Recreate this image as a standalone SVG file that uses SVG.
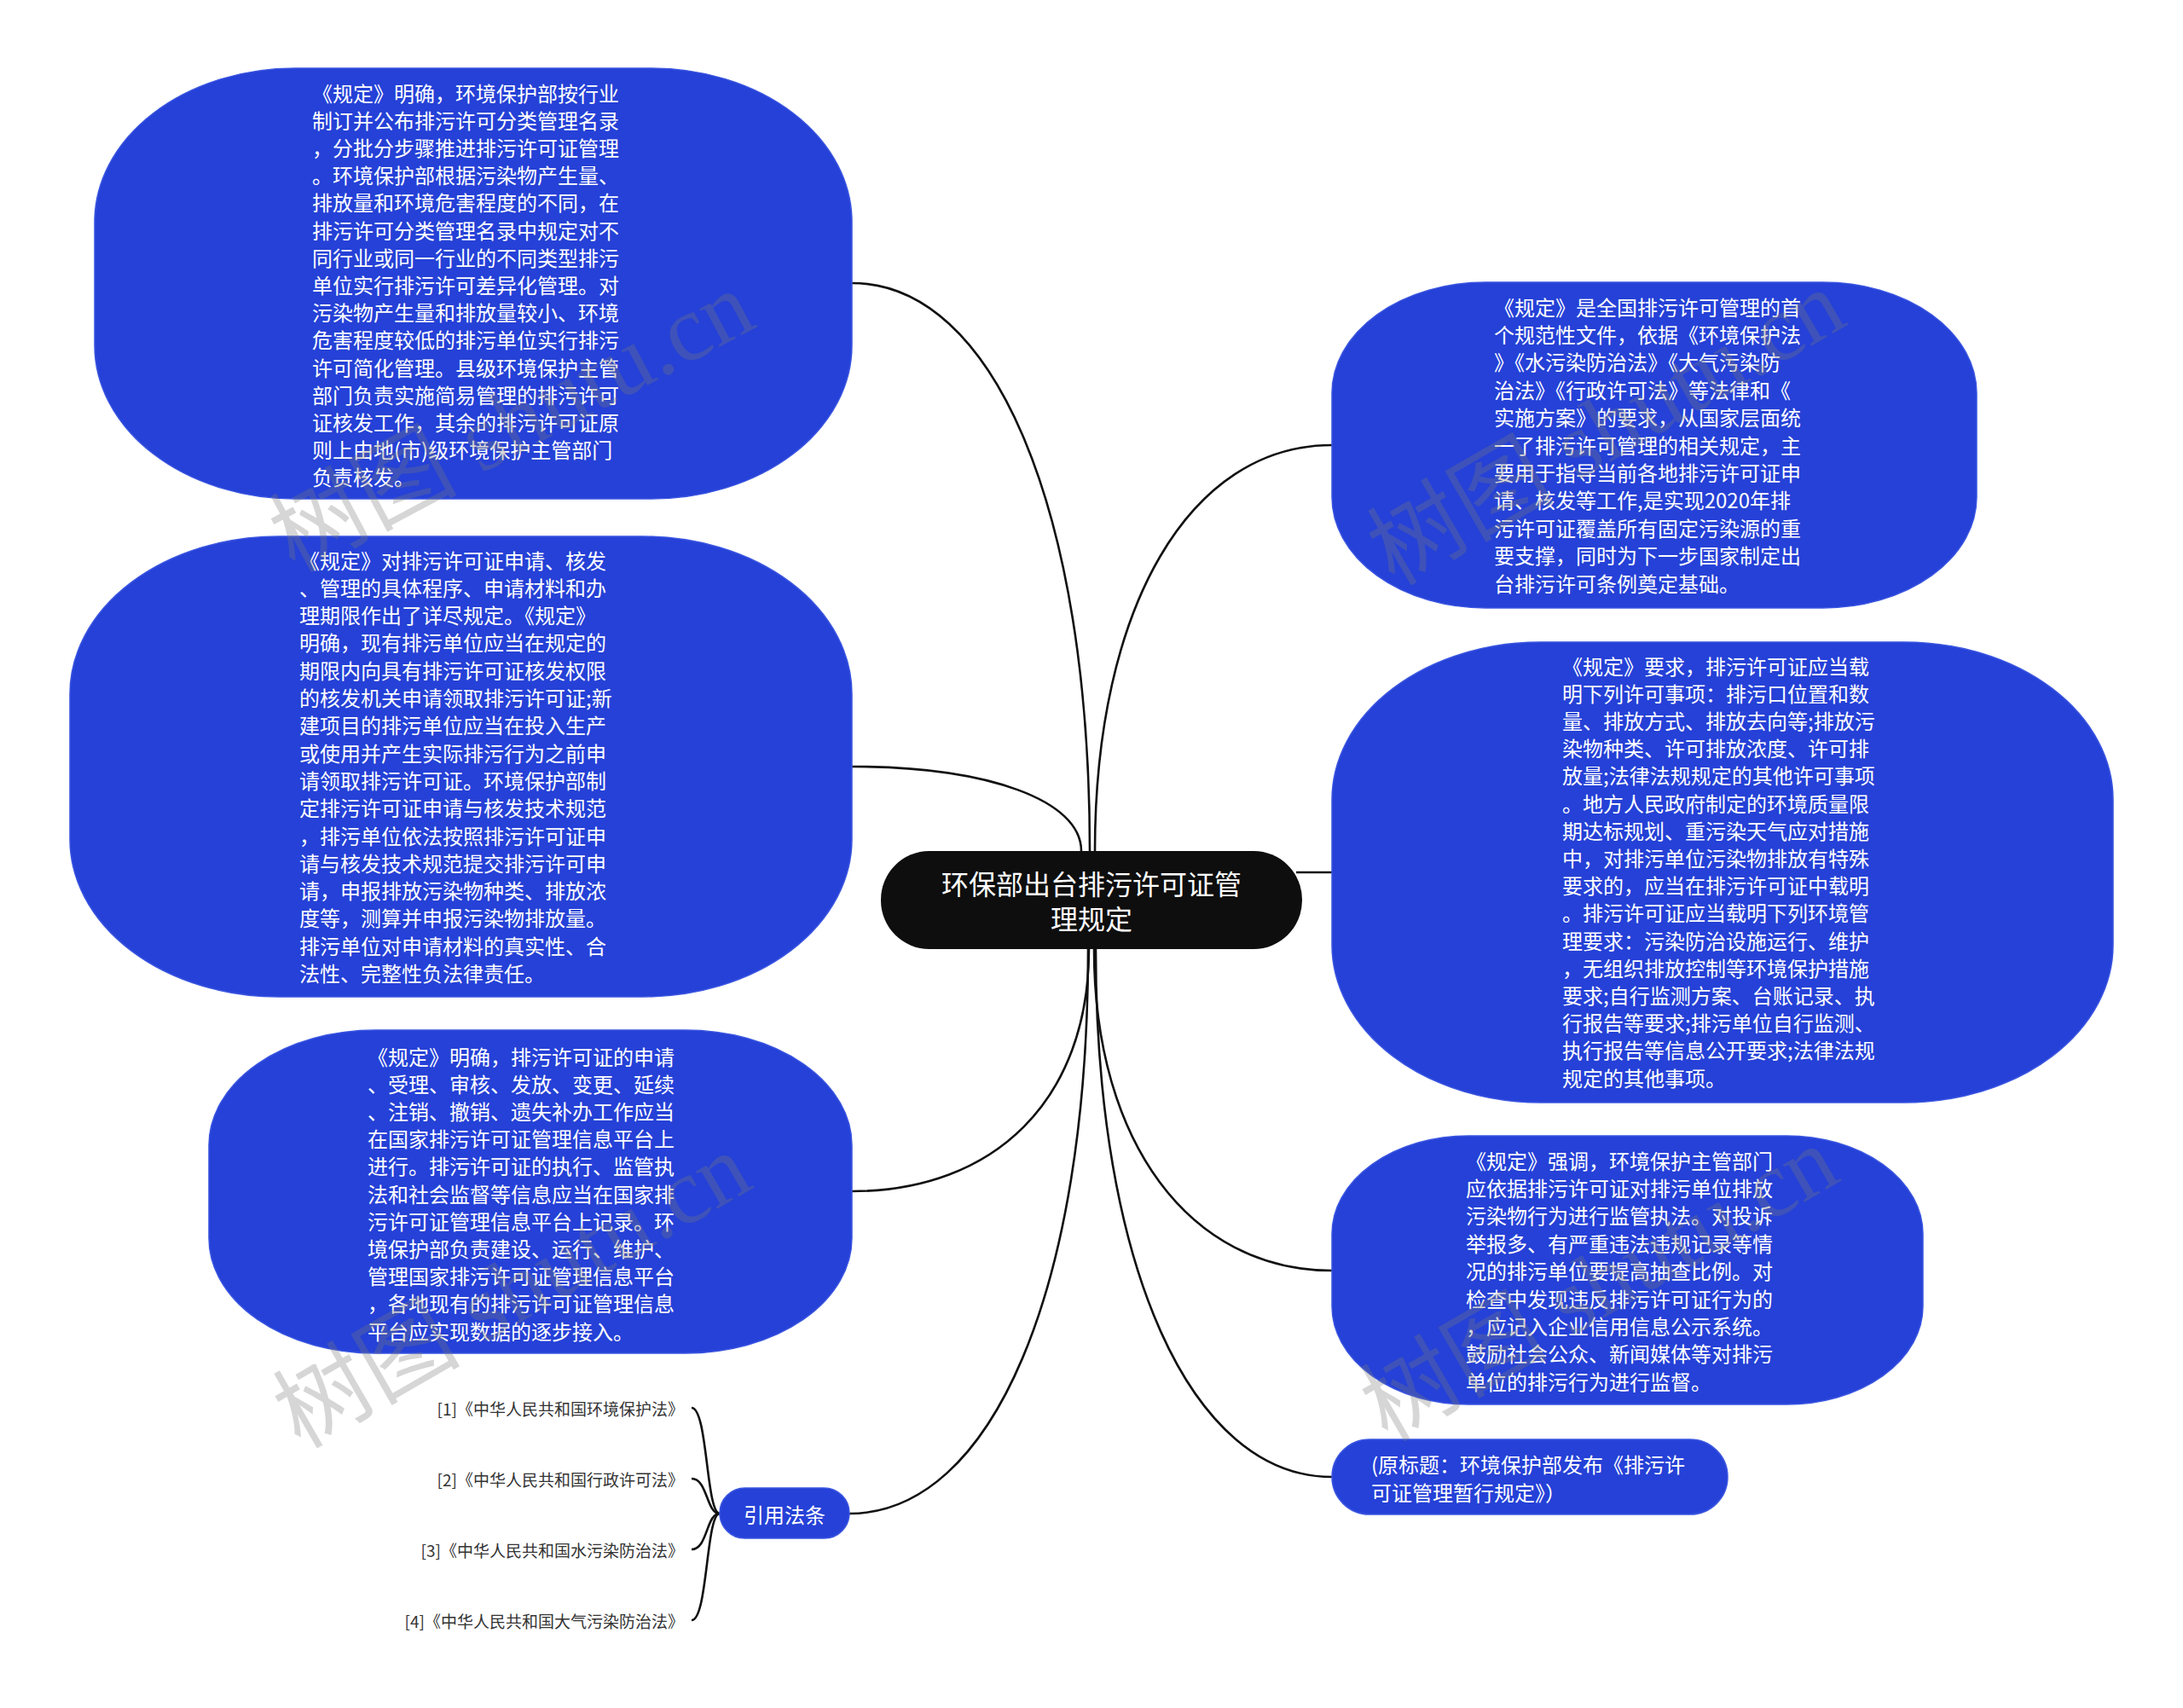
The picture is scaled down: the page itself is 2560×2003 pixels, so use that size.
<svg xmlns="http://www.w3.org/2000/svg" width="2560" height="2003" viewBox="0 0 2560 2003">
<style>
.bg{fill:#ffffff}
.node{fill:#2541D7;stroke:#3a55e0;stroke-width:1.5}
.root{fill:#0e0e0e}
.t{font-family:"Noto Sans CJK SC","Noto Sans",sans-serif;font-size:24px;fill:#ffffff;dominant-baseline:central}
.rt{font-family:"Noto Sans CJK SC","Noto Sans",sans-serif;font-size:32px;fill:#ffffff;dominant-baseline:central;text-anchor:middle}
.ct{font-family:"Noto Sans CJK SC","Noto Sans",sans-serif;font-size:19px;fill:#333333;dominant-baseline:central;text-anchor:end}
.conn path{fill:none;stroke:#111111;stroke-width:2.6}
.wm{font-family:"Liberation Serif","Noto Sans CJK SC",serif;font-size:110px;fill:#7a7a7a;opacity:0.3}
</style>
<rect class="bg" x="0" y="0" width="2560" height="2003"/>
<g id="connectors" class="conn">
<path d="M999 332 C1166 332 1278 598 1278 998"/>
<path d="M999 899 C1160 899 1268 939 1268 998"/>
<path d="M999 1397 C1166 1397 1277 1290 1277 1113"/>
<path d="M996 1775 C1164 1775 1276 1510 1276 1113"/>
<path d="M1562 522 C1395 522 1284 712 1284 998"/>
<path d="M1520 1023 L1562 1023"/>
<path d="M1562 1490 C1395 1490 1283 1339 1283 1113"/>
<path d="M1562 1732 C1396 1732 1285 1484 1285 1113"/>
<path d="M844 1775 C828 1775 830 1651 811 1651"/>
<path d="M844 1775 C828 1775 830 1734 811 1734"/>
<path d="M844 1775 C828 1775 830 1817 811 1817"/>
<path d="M844 1775 C828 1775 830 1900 811 1900"/>
</g>
<g id="root">
<rect class="root" x="1033" y="998" width="494" height="115" rx="57" ry="57"/>
<text class="rt" x="1280" y="1035">环保部出台排污许可证管</text>
<text class="rt" x="1280" y="1076">理规定</text>
</g>
<g id="left1">
<rect class="node" x="111" y="80" width="888" height="505" rx="235" ry="180"/>
<text class="t" x="366" y="108">《规定》明确，环境保护部按行业</text>
<text class="t" x="366" y="140.2">制订并公布排污许可分类管理名录</text>
<text class="t" x="366" y="172.4">，分批分步骤推进排污许可证管理</text>
<text class="t" x="366" y="204.6">。环境保护部根据污染物产生量、</text>
<text class="t" x="366" y="236.8">排放量和环境危害程度的不同，在</text>
<text class="t" x="366" y="269">排污许可分类管理名录中规定对不</text>
<text class="t" x="366" y="301.2">同行业或同一行业的不同类型排污</text>
<text class="t" x="366" y="333.4">单位实行排污许可差异化管理。对</text>
<text class="t" x="366" y="365.6">污染物产生量和排放量较小、环境</text>
<text class="t" x="366" y="397.8">危害程度较低的排污单位实行排污</text>
<text class="t" x="366" y="430">许可简化管理。县级环境保护主管</text>
<text class="t" x="366" y="462.2">部门负责实施简易管理的排污许可</text>
<text class="t" x="366" y="494.4">证核发工作，其余的排污许可证原</text>
<text class="t" x="366" y="526.6">则上由地(市)级环境保护主管部门</text>
<text class="t" x="366" y="558.8">负责核发。</text>
</g>
<g id="left2">
<rect class="node" x="82" y="629" width="917" height="540" rx="245" ry="185"/>
<text class="t" x="351" y="656">《规定》对排污许可证申请、核发</text>
<text class="t" x="351" y="688.3">、管理的具体程序、申请材料和办</text>
<text class="t" x="351" y="720.6">理期限作出了详尽规定。《规定》</text>
<text class="t" x="351" y="752.9">明确，现有排污单位应当在规定的</text>
<text class="t" x="351" y="785.2">期限内向具有排污许可证核发权限</text>
<text class="t" x="351" y="817.5">的核发机关申请领取排污许可证;新</text>
<text class="t" x="351" y="849.8">建项目的排污单位应当在投入生产</text>
<text class="t" x="351" y="882.1">或使用并产生实际排污行为之前申</text>
<text class="t" x="351" y="914.4">请领取排污许可证。环境保护部制</text>
<text class="t" x="351" y="946.7">定排污许可证申请与核发技术规范</text>
<text class="t" x="351" y="979">，排污单位依法按照排污许可证申</text>
<text class="t" x="351" y="1011.3">请与核发技术规范提交排污许可申</text>
<text class="t" x="351" y="1043.6">请，申报排放污染物种类、排放浓</text>
<text class="t" x="351" y="1075.9">度等，测算并申报污染物排放量。</text>
<text class="t" x="351" y="1108.2">排污单位对申请材料的真实性、合</text>
<text class="t" x="351" y="1140.5">法性、完整性负法律责任。</text>
</g>
<g id="left3">
<rect class="node" x="245" y="1208" width="754" height="379" rx="195" ry="135"/>
<text class="t" x="431" y="1238">《规定》明确，排污许可证的申请</text>
<text class="t" x="431" y="1270.2">、受理、审核、发放、变更、延续</text>
<text class="t" x="431" y="1302.4">、注销、撤销、遗失补办工作应当</text>
<text class="t" x="431" y="1334.6">在国家排污许可证管理信息平台上</text>
<text class="t" x="431" y="1366.8">进行。排污许可证的执行、监管执</text>
<text class="t" x="431" y="1399">法和社会监督等信息应当在国家排</text>
<text class="t" x="431" y="1431.2">污许可证管理信息平台上记录。环</text>
<text class="t" x="431" y="1463.4">境保护部负责建设、运行、维护、</text>
<text class="t" x="431" y="1495.6">管理国家排污许可证管理信息平台</text>
<text class="t" x="431" y="1527.8">，各地现有的排污许可证管理信息</text>
<text class="t" x="431" y="1560">平台应实现数据的逐步接入。</text>
</g>
<g id="cite">
<rect class="node" x="844" y="1745" width="152" height="59" rx="29.5" ry="29.5"/>
<text class="t" x="920" y="1775" text-anchor="middle">引用法条</text>
</g>
<g id="cite1"><text class="ct" x="802" y="1651">[1]《中华人民共和国环境保护法》</text></g>
<g id="cite2"><text class="ct" x="802" y="1734">[2]《中华人民共和国行政许可法》</text></g>
<g id="cite3"><text class="ct" x="802" y="1817">[3]《中华人民共和国水污染防治法》</text></g>
<g id="cite4"><text class="ct" x="802" y="1900">[4]《中华人民共和国大气污染防治法》</text></g>
<g id="right1">
<rect class="node" x="1562" y="331" width="756" height="382" rx="180" ry="130"/>
<text class="t" x="1752" y="359">《规定》是全国排污许可管理的首</text>
<text class="t" x="1752" y="391.4">个规范性文件，依据《环境保护法</text>
<text class="t" x="1752" y="423.8">》《水污染防治法》《大气污染防</text>
<text class="t" x="1752" y="456.2">治法》《行政许可法》等法律和《</text>
<text class="t" x="1752" y="488.6">实施方案》的要求，从国家层面统</text>
<text class="t" x="1752" y="521">一了排污许可管理的相关规定，主</text>
<text class="t" x="1752" y="553.4">要用于指导当前各地排污许可证申</text>
<text class="t" x="1752" y="585.8">请、核发等工作,是实现2020年排</text>
<text class="t" x="1752" y="618.2">污许可证覆盖所有固定污染源的重</text>
<text class="t" x="1752" y="650.6">要支撑，同时为下一步国家制定出</text>
<text class="t" x="1752" y="683">台排污许可条例奠定基础。</text>
</g>
<g id="right2">
<rect class="node" x="1562" y="753" width="916" height="540" rx="245" ry="185"/>
<text class="t" x="1832" y="780">《规定》要求，排污许可证应当载</text>
<text class="t" x="1832" y="812.2">明下列许可事项：排污口位置和数</text>
<text class="t" x="1832" y="844.4">量、排放方式、排放去向等;排放污</text>
<text class="t" x="1832" y="876.6">染物种类、许可排放浓度、许可排</text>
<text class="t" x="1832" y="908.8">放量;法律法规规定的其他许可事项</text>
<text class="t" x="1832" y="941">。地方人民政府制定的环境质量限</text>
<text class="t" x="1832" y="973.2">期达标规划、重污染天气应对措施</text>
<text class="t" x="1832" y="1005.4">中，对排污单位污染物排放有特殊</text>
<text class="t" x="1832" y="1037.6">要求的，应当在排污许可证中载明</text>
<text class="t" x="1832" y="1069.8">。排污许可证应当载明下列环境管</text>
<text class="t" x="1832" y="1102">理要求：污染防治设施运行、维护</text>
<text class="t" x="1832" y="1134.2">，无组织排放控制等环境保护措施</text>
<text class="t" x="1832" y="1166.4">要求;自行监测方案、台账记录、执</text>
<text class="t" x="1832" y="1198.6">行报告等要求;排污单位自行监测、</text>
<text class="t" x="1832" y="1230.8">执行报告等信息公开要求;法律法规</text>
<text class="t" x="1832" y="1263">规定的其他事项。</text>
</g>
<g id="right3">
<rect class="node" x="1562" y="1332" width="693" height="315" rx="160" ry="115"/>
<text class="t" x="1719" y="1360">《规定》强调，环境保护主管部门</text>
<text class="t" x="1719" y="1392.4">应依据排污许可证对排污单位排放</text>
<text class="t" x="1719" y="1424.8">污染物行为进行监管执法。对投诉</text>
<text class="t" x="1719" y="1457.2">举报多、有严重违法违规记录等情</text>
<text class="t" x="1719" y="1489.6">况的排污单位要提高抽查比例。对</text>
<text class="t" x="1719" y="1522">检查中发现违反排污许可证行为的</text>
<text class="t" x="1719" y="1554.4">，应记入企业信用信息公示系统。</text>
<text class="t" x="1719" y="1586.8">鼓励社会公众、新闻媒体等对排污</text>
<text class="t" x="1719" y="1619.2">单位的排污行为进行监督。</text>
</g>
<g id="right4">
<rect class="node" x="1562" y="1688" width="464" height="88" rx="44" ry="44"/>
<text class="t" x="1608" y="1716">(原标题：环境保护部发布《排污许</text>
<text class="t" x="1608" y="1749">可证管理暂行规定》）</text>
</g>
<g id="watermark">
<text class="wm" transform="translate(345 672) rotate(-28)">树图 shutu.cn</text>
<text class="wm" transform="translate(1635 688) rotate(-30)">树图 shutu.cn</text>
<text class="wm" transform="translate(352 1700) rotate(-30)">树图 shutu.cn</text>
<text class="wm" transform="translate(1627 1692) rotate(-30)">树图 shutu.cn</text>
</g>
</svg>
